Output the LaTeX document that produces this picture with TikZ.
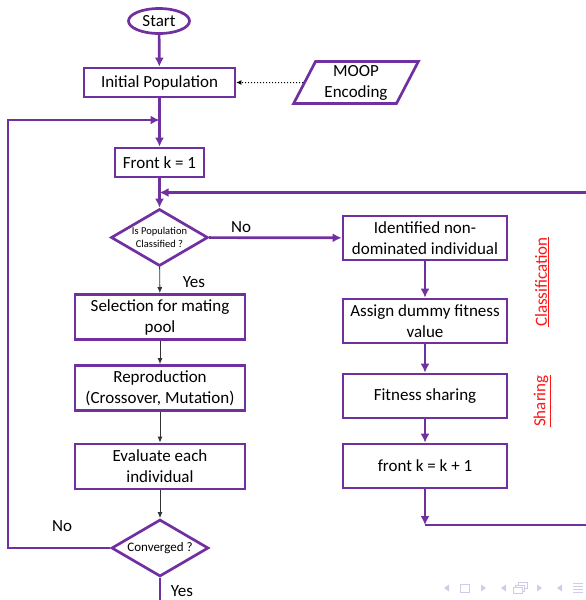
\documentclass[tikz,border=0pt]{standalone}
\usepackage{fontspec}
\setmainfont{Carlito}
\usetikzlibrary{arrows.meta,shapes.geometric,calc}
\definecolor{flowpurple}{RGB}{112,48,160}
\definecolor{navgrey}{RGB}{205,205,232}
\definecolor{labelred}{RGB}{255,20,20}

\begin{document}
\begin{tikzpicture}[x=1pt,y=-1pt,
  txt/.style={font=\fontsize{17}{21}\selectfont},
  stepbox/.style={draw=flowpurple,line width=2.7pt,rectangle,align=center,inner sep=0pt,txt},
  rightbox/.style={stepbox,minimum width=164pt,minimum height=44pt},
  leftbox/.style={stepbox,minimum width=170pt,minimum height=45pt},
  decision/.style={draw=flowpurple,line width=2.7pt,diamond,aspect=1.7,inner sep=0pt,align=center,minimum width=97pt,minimum height=57pt},
  parrow/.style={draw=flowpurple,line width=2.7pt,-{Latex[length=9pt,width=9pt]}},
  tarrow/.style={draw=black!80,line width=0.9pt,-{Latex[length=6pt,width=5pt]}},
  dotarrow/.style={draw=black,line width=1pt,dotted,-{Latex[length=5pt,width=5pt]}},
  side/.style={text=labelred,rotate=90,txt},
  navtri/.style={fill=navgrey,draw=none}
]
\useasboundingbox (0,0) rectangle (586,600);
\clip (0,0) rectangle (586,600);

% main column
\node[draw=flowpurple,line width=2.7pt,ellipse,minimum width=61pt,minimum height=25pt,inner sep=0pt,txt] (start) at (159,21) {Start};
\node[stepbox,minimum width=151pt,minimum height=29pt] (init) at (159.5,82.5) {Initial Population};
\node[draw=flowpurple,line width=2.7pt,trapezium,trapezium left angle=64,trapezium right angle=116,
      trapezium stretches=true,minimum width=126pt,minimum height=42pt,inner sep=0pt,align=center,txt] (moop) at (356,82.5) {MOOP\\Encoding};
\node[stepbox,minimum width=89pt,minimum height=29pt] (front) at (159.5,162.5) {Front k = 1};
\node[decision,font=\fontsize{10.5}{13}\selectfont] (q1) at (159.5,237.5) {Is Population\\Classified ?};
\node[leftbox] (sel) at (160,317) {Selection for mating\\pool};
\node[leftbox] (rep) at (160,388) {Reproduction\\(Crossover, Mutation)};
\node[leftbox] (eval) at (160,466.5) {Evaluate each\\individual};
\node[decision,font=\fontsize{13}{15}\selectfont] (conv) at (160,548) {Converged ?};

% classification / sharing column
\node[rightbox] (ident) at (425,238) {Identified non-\\dominated individual};
\node[rightbox] (assign) at (425,321) {Assign dummy fitness\\value};
\node[rightbox] (share) at (425,396) {Fitness sharing};
\node[rightbox] (inc) at (425,466) {front k = k + 1};

% edge labels
\node[txt] (lno1) at (241,227) {No};
\node[txt] (lyes1) at (194,282) {Yes};
\node[txt] (lno2) at (62,526) {No};
\node[txt] (lyes2) at (182,591) {Yes};

% side labels
\node[side] (lclass) at (542,282) {\underline{Classification}};
\node[side] (lshare) at (542,401) {\underline{Sharing}};

% connection points
\coordinate (loopL) at (8,120);
\coordinate (loopin) at (159.5,120);
\coordinate (retR) at (600,192.5);
\coordinate (retin) at (159.5,192.5);
\coordinate (bend) at (425,525);
\coordinate (outR) at (600,525);
\coordinate (downout) at (160,612);

% connectors
\draw[parrow] (start) -- (init);
\draw[dotarrow] (moop.west) -- (init.east);
\draw[parrow] (init) -- (front);
\draw[parrow] (conv.west) -| (loopL) -- (loopin);
\draw[parrow] (front) -- (q1);
\draw[parrow] (retR) -- (retin);
\draw[parrow] (q1) -- (ident);
\draw[tarrow] (q1) -- (sel);
\draw[tarrow] (sel) -- (rep);
\draw[tarrow] (rep) -- (eval);
\draw[tarrow] (eval) -- (conv);
\draw[parrow] (conv) -- (downout);
\draw[parrow] (ident) -- (assign);
\draw[parrow] (assign) -- (share);
\draw[parrow] (share) -- (inc);
\draw[parrow] (inc) -- (bend);
\draw[parrow] (bend) -- (outR);

% navigation symbols
\fill[navtri] (444,588) -- (449,584.5) -- (449,591.5) -- cycle;
\draw[navgrey,line width=1pt] (460.5,584.5) rectangle (469.5,592);
\fill[navtri] (486,588) -- (481,584.5) -- (481,591.5) -- cycle;
\fill[navtri] (501,588) -- (506,584.5) -- (506,591.5) -- cycle;
\draw[navgrey,line width=1pt,fill=white] (518,582.5) rectangle (527,588.5);
\draw[navgrey,line width=1pt,fill=white] (515.5,585) rectangle (524.5,591);
\draw[navgrey,line width=1pt,fill=white] (513,587.5) rectangle (522,593.5);
\fill[navtri] (542,588) -- (537,584.5) -- (537,591.5) -- cycle;
\fill[navtri] (557,588) -- (562,584.5) -- (562,591.5) -- cycle;
\foreach \yy in {583.5,586.5,589.5,592.5}
  \draw[navgrey,line width=1pt] (573,\yy) -- (583,\yy);
\end{tikzpicture}
\end{document}
